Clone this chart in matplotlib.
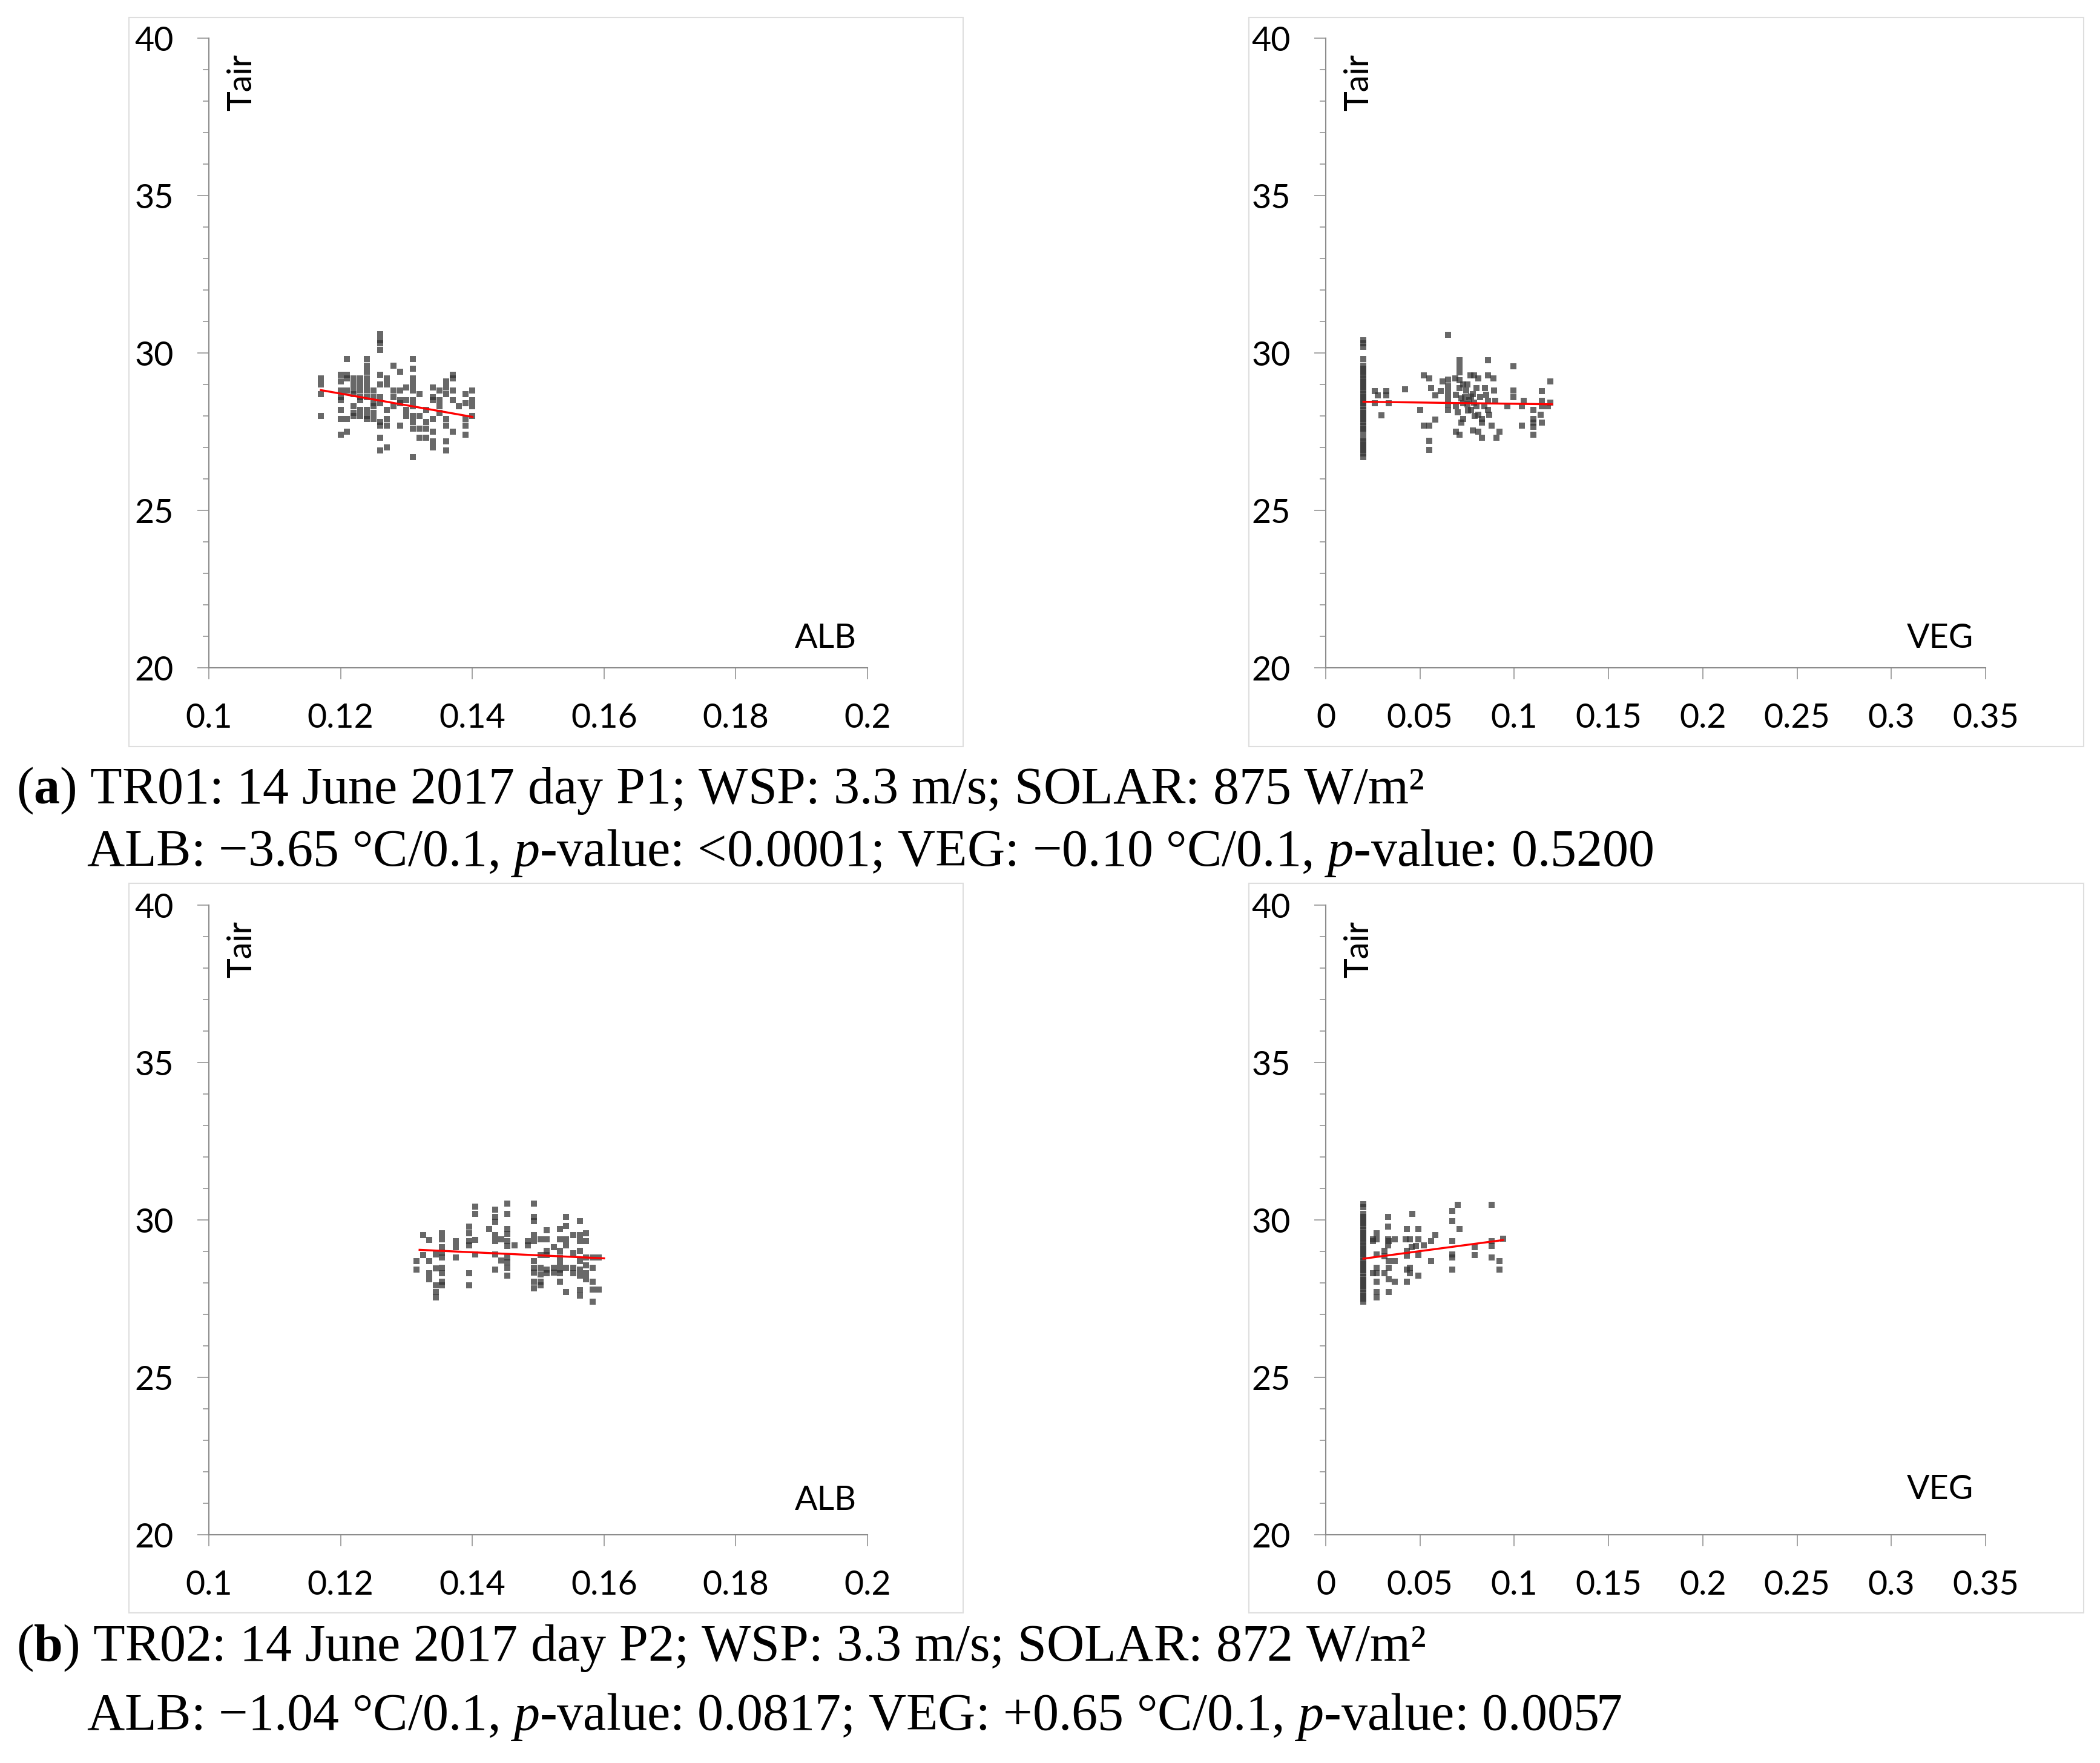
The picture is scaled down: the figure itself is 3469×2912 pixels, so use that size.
import matplotlib
matplotlib.use("Agg")
import matplotlib.pyplot as plt
from matplotlib.patches import Rectangle

plt.rcParams['mathtext.fontset'] = 'custom'
plt.rcParams['mathtext.rm'] = 'Liberation Serif'
plt.rcParams['mathtext.it'] = 'Liberation Serif:italic'
plt.rcParams['mathtext.bf'] = 'Liberation Serif:bold'

# ---- data ----
# ALB panels: (albedo, [Tair values at that albedo])
alb_a = [
    (0.117, [29.2, 29.0, 28.7, 28.0]),
    (0.120, [29.3, 29.1, 28.8, 28.6, 28.5, 28.2, 27.9, 27.4]),
    (0.121, [29.8, 29.3, 29.2, 28.8, 27.9, 27.5]),
    (0.122, [29.2, 29.0, 28.8, 28.7, 28.3, 28.1, 28.0]),
    (0.123, [29.2, 29.0, 28.8, 28.6, 28.5, 28.2, 28.0]),
    (0.124, [29.8, 29.6, 29.4, 29.2, 29.0, 28.8, 28.6, 28.2, 28.0, 27.9]),
    (0.125, [28.8, 28.6, 28.4, 28.3, 28.1, 27.9]),
    (0.126, [30.6, 30.4, 30.3, 30.1, 29.3, 29.0, 28.6, 28.4, 27.8, 27.7, 27.3, 26.9]),
    (0.127, [29.2, 29.0, 28.2, 27.9, 27.7, 27.0]),
    (0.128, [29.6, 28.8, 28.6, 28.3]),
    (0.129, [29.4, 28.8, 28.5, 28.4, 27.7]),
    (0.130, [28.9, 28.5, 28.2, 28.0]),
    (0.131, [29.8, 29.5, 29.2, 29.0, 28.8, 28.5, 28.3, 28.0, 27.8, 27.6, 26.7]),
    (0.132, [28.7, 28.0, 27.6, 27.3]),
    (0.133, [28.2, 27.8, 27.6, 27.3]),
    (0.134, [28.9, 28.6, 28.5, 27.9, 27.5, 27.2, 27.0]),
    (0.135, [28.8, 28.5, 28.3, 28.1]),
    (0.136, [29.1, 28.9, 28.7, 27.9, 27.7, 27.2, 26.9]),
    (0.137, [29.3, 29.2, 28.8, 28.5, 27.5]),
    (0.138, [28.3]),
    (0.139, [28.7, 28.4, 27.9, 27.7, 27.4]),
    (0.140, [28.8, 28.5, 28.3, 28.0]),
]
alb_b = [
    (0.1315, [28.69, 28.43]),
    (0.1325, [29.52, 28.88]),
    (0.1335, [29.36, 28.69, 28.30, 28.11]),
    (0.1345, [28.91, 28.46, 27.92, 27.72, 27.53]),
    (0.1354, [29.58, 29.39, 29.13, 28.97, 28.81, 28.49, 28.30, 28.04, 27.92]),
    (0.1375, [29.33, 29.13, 28.81]),
    (0.1395, [29.78, 29.58, 29.33, 29.20, 28.30, 27.92]),
    (0.1404, [30.42, 30.19, 29.36, 28.91]),
    (0.1426, [29.71]),
    (0.1435, [30.32, 30.10, 29.94, 29.52, 29.33, 28.91, 28.43]),
    (0.1444, [29.39, 28.72]),
    (0.1453, [30.51, 30.19, 29.71, 29.55, 29.33, 29.17, 28.81, 28.65, 28.49, 28.24]),
    (0.1464, [29.20]),
    (0.1484, [29.33, 29.20]),
    (0.1494, [30.51, 30.10, 29.97, 29.52, 29.33, 28.69, 28.49, 28.33, 28.04, 27.82]),
    (0.1504, [29.39, 28.88, 28.49, 28.27, 28.04, 27.92]),
    (0.1513, [29.68, 29.39, 29.01, 28.88, 28.43, 28.30]),
    (0.1524, [29.13, 28.49, 28.33]),
    (0.1533, [29.71, 29.39, 29.01, 28.81, 28.62, 28.43, 28.30, 28.04]),
    (0.1542, [30.10, 29.81, 29.39, 29.20, 28.49, 27.72]),
    (0.1553, [29.52, 28.94, 28.49, 28.30]),
    (0.1563, [29.97, 29.52, 29.33, 29.01, 28.69, 28.43, 28.24, 27.76, 27.60]),
    (0.1573, [29.58, 29.33, 28.81, 28.56, 28.30, 28.11]),
    (0.1583, [28.81, 28.49, 28.04, 27.79, 27.40]),
    (0.1592, [28.81, 27.79]),
]

# VEG panels: many points sit on the minimum VEG = 0.02
veg_min = 0.02
veg_a_bar = [30.4, 30.3, 30.2, 29.8, 29.6, 29.5, 29.4, 29.3, 29.2, 29.1, 29.0, 28.9,
             28.8, 28.7, 28.6, 28.5, 28.4, 28.3, 28.2, 28.1, 28.0, 27.9, 27.8, 27.7,
             27.6, 27.5, 27.3, 27.2, 27.1, 27.0, 26.9, 26.8, 26.7]
veg_a_pts = [
    (0.026, 28.78), (0.0275, 28.65), (0.032, 28.78), (0.032, 28.65), (0.026, 28.40),
    (0.0334, 28.40), (0.0296, 28.01), (0.042, 28.84), (0.050, 28.20), (0.052, 29.29),
    (0.055, 29.20), (0.056, 28.88), (0.058, 28.65), (0.061, 28.78), (0.052, 27.69),
    (0.055, 27.69), (0.058, 27.88), (0.055, 27.21), (0.055, 26.92), (0.065, 30.57),
    (0.065, 29.16), (0.065, 28.94), (0.065, 28.75), (0.065, 28.56), (0.065, 28.36),
    (0.065, 28.20), (0.062, 29.10), (0.0686, 29.20), (0.071, 29.77), (0.071, 29.58),
    (0.071, 29.39), (0.071, 29.13), (0.069, 28.68), (0.069, 28.30), (0.070, 28.11),
    (0.071, 28.88), (0.072, 28.56), (0.073, 29.00), (0.0745, 28.81), (0.075, 28.36),
    (0.0755, 28.17), (0.073, 27.91), (0.072, 27.79), (0.069, 27.50), (0.071, 27.40),
    (0.0766, 29.29), (0.0787, 29.29), (0.081, 29.20), (0.077, 28.62), (0.0787, 28.43),
    (0.080, 28.88), (0.081, 28.04), (0.083, 27.91), (0.083, 27.79), (0.078, 27.53),
    (0.081, 27.50), (0.083, 27.31), (0.0846, 28.88), (0.085, 28.68), (0.086, 28.49),
    (0.084, 28.30), (0.086, 28.20), (0.086, 29.77), (0.086, 29.29), (0.089, 29.20),
    (0.0894, 28.81), (0.090, 28.49), (0.0868, 28.04), (0.088, 27.69), (0.0905, 27.31),
    (0.092, 27.50), (0.0964, 28.30), (0.0996, 29.58), (0.0996, 28.81), (0.0996, 28.59),
    (0.105, 28.49), (0.104, 28.30), (0.104, 27.69), (0.110, 28.20), (0.110, 27.91),
    (0.110, 27.79), (0.110, 27.66), (0.110, 27.40), (0.1145, 28.78), (0.1145, 28.49),
    (0.1145, 28.30), (0.114, 28.04), (0.1145, 27.79), (0.119, 29.10), (0.119, 28.43),
    (0.118, 28.30), (0.074, 28.6), (0.076, 28.5), (0.078, 28.7), (0.073, 28.4),
    (0.080, 28.3), (0.082, 28.6), (0.075, 29.0), (0.077, 28.2), (0.079, 28.0),
]
veg_b_bar = [30.5, 30.4, 30.2, 30.1, 30.0, 29.9, 29.8, 29.7, 29.6, 29.5, 29.4, 29.3,
             29.2, 29.1, 29.0, 28.9, 28.8, 28.7, 28.6, 28.5, 28.4, 28.3, 28.2, 28.1,
             28.0, 27.9, 27.8, 27.7, 27.6, 27.5, 27.4]
veg_b_pts = [
    (0.027, 29.58), (0.027, 29.39), (0.025, 29.39), (0.025, 29.33), (0.027, 28.91),
    (0.027, 28.49), (0.027, 28.30), (0.025, 28.30), (0.027, 28.04), (0.027, 27.72),
    (0.027, 27.53), (0.033, 30.10), (0.033, 29.79), (0.033, 29.39), (0.0334, 29.33),
    (0.0366, 29.39), (0.033, 29.20), (0.031, 29.01), (0.031, 28.85), (0.0334, 28.69),
    (0.0366, 28.69), (0.0334, 28.49), (0.031, 28.30), (0.0334, 28.11), (0.0366, 28.04),
    (0.0334, 27.72), (0.043, 29.71), (0.0424, 29.39), (0.0446, 29.39), (0.043, 29.01),
    (0.043, 28.87), (0.043, 28.43), (0.0446, 28.49), (0.0446, 28.30), (0.043, 28.04),
    (0.046, 30.19), (0.049, 29.71), (0.049, 29.39), (0.048, 29.17), (0.0456, 29.13),
    (0.049, 28.88), (0.052, 29.20), (0.049, 28.24), (0.056, 29.33), (0.058, 29.52),
    (0.056, 28.69), (0.067, 30.29), (0.070, 30.49), (0.067, 29.97), (0.071, 29.71),
    (0.067, 29.33), (0.067, 28.91), (0.067, 28.81), (0.067, 28.43), (0.079, 29.13),
    (0.079, 28.89), (0.088, 30.49), (0.088, 29.33), (0.088, 29.17), (0.088, 28.81),
    (0.092, 28.70), (0.092, 28.43), (0.094, 29.40),
]

# linear trend lines (end points)
fit_alb_a_x, fit_alb_a_y = [0.117, 0.140], [28.82, 27.97]
fit_veg_a_x, fit_veg_a_y = [0.02, 0.12], [28.45, 28.37]
fit_alb_b_x, fit_alb_b_y = [0.132, 0.160], [29.05, 28.78]
fit_veg_b_x, fit_veg_b_y = [0.02, 0.094], [28.77, 29.36]

alb_ticks = [0.1, 0.12, 0.14, 0.16, 0.18, 0.2]
alb_labels = ["0.1", "0.12", "0.14", "0.16", "0.18", "0.2"]
veg_ticks = [0, 0.05, 0.1, 0.15, 0.2, 0.25, 0.3, 0.35]
veg_labels = ["0", "0.05", "0.1", "0.15", "0.2", "0.25", "0.3", "0.35"]
y_ticks = [20, 25, 30, 35, 40]
y_labels = ["20", "25", "30", "35", "40"]

caption_a1 = r"($\mathbf{a}$) TR01: 14 June 2017 day P1; WSP: 3.3 m/s; SOLAR: 875 W/m²"
caption_a2 = r"ALB: −3.65 °C/0.1, $\mathit{p}$-value: <0.0001; VEG: −0.10 °C/0.1, $\mathit{p}$-value: 0.5200"
caption_b1 = r"($\mathbf{b}$) TR02: 14 June 2017 day P2; WSP: 3.3 m/s; SOLAR: 872 W/m²"
caption_b2 = r"ALB: −1.04 °C/0.1, $\mathit{p}$-value: 0.0817; VEG: +0.65 °C/0.1, $\mathit{p}$-value: 0.0057"


def flatten_cols(cols):
    xs, ys = [], []
    for x, col in cols:
        xs += [x] * len(col)
        ys += col
    return xs, ys


def veg_xy(bar, pts):
    xs = [veg_min] * len(bar) + [p[0] for p in pts]
    ys = list(bar) + [p[1] for p in pts]
    return xs, ys


W, H = 3469, 2912
fig = plt.figure(figsize=(W / 100, H / 100), dpi=100)
fig.patch.set_facecolor("white")

AX_GRAY = "#8c8c8c"
TICK_FONT = "Lato"


def px_axes(x0, x1, ytop, ybot):
    return fig.add_axes([x0 / W, 1 - ybot / H, (x1 - x0) / W, (ybot - ytop) / H])


def chart_frame(x0, y0, x1, y1):
    fig.patches.append(Rectangle((x0 / W, 1 - y1 / H), (x1 - x0) / W, (y1 - y0) / H,
                                 transform=fig.transFigure, fill=False,
                                 edgecolor="#dedede", lw=1.5))


def draw_panel(ax, xs, ys, fx, fy, xlim, xticks, xlabels, name, name_x, name_y):
    ax.scatter(xs, ys, marker="s", s=56, color="#333333", alpha=0.74,
               linewidths=0, zorder=3)
    ax.plot(fx, fy, color="#ff0000", lw=2.4, zorder=4)
    ax.set_xlim(*xlim)
    ax.set_ylim(20, 40)
    ax.set_xticks(xticks)
    ax.set_xticklabels(xlabels)
    ax.set_yticks(y_ticks)
    ax.set_yticklabels(y_labels)
    ax.set_yticks(range(20, 41), minor=True)
    for s in ["top", "right"]:
        ax.spines[s].set_visible(False)
    for s in ["left", "bottom"]:
        ax.spines[s].set_color(AX_GRAY)
        ax.spines[s].set_linewidth(1.5)
    ax.tick_params(axis="both", which="major", direction="out", length=14,
                   width=1.1, color=AX_GRAY, labelsize=40, pad=28)
    ax.tick_params(axis="y", which="minor", direction="out", length=7,
                   width=1.1, color=AX_GRAY)
    for lab in ax.get_xticklabels() + ax.get_yticklabels():
        lab.set_fontfamily(TICK_FONT)
    ax.text(0.05, 0.975, "Tair", transform=ax.transAxes, rotation=90,
            ha="center", va="top", fontsize=40, family=TICK_FONT)
    ax.text(name_x, name_y, name, transform=ax.transAxes,
            ha="right", va="bottom", fontsize=40, family=TICK_FONT)


# frames of the four Excel charts
chart_frame(213, 29, 1591, 1233)
chart_frame(2063, 29, 3442, 1233)
chart_frame(213, 1459, 1591, 2664)
chart_frame(2063, 1459, 3442, 2664)

ax1 = px_axes(345, 1433, 63, 1103)
ax2 = px_axes(2190, 3280, 63, 1103)
ax3 = px_axes(345, 1433, 1495, 2535)
ax4 = px_axes(2190, 3280, 1495, 2535)

x, y = flatten_cols(alb_a)
draw_panel(ax1, x, y, fit_alb_a_x, fit_alb_a_y, (0.1, 0.2), alb_ticks, alb_labels,
           "ALB", 0.983, 0.022)
x, y = veg_xy(veg_a_bar, veg_a_pts)
draw_panel(ax2, x, y, fit_veg_a_x, fit_veg_a_y, (0, 0.35), veg_ticks, veg_labels,
           "VEG", 0.982, 0.022)
x, y = flatten_cols(alb_b)
draw_panel(ax3, x, y, fit_alb_b_x, fit_alb_b_y, (0.1, 0.2), alb_ticks, alb_labels,
           "ALB", 0.983, 0.03)
x, y = veg_xy(veg_b_bar, veg_b_pts)
draw_panel(ax4, x, y, fit_veg_b_x, fit_veg_b_y, (0, 0.35), veg_ticks, veg_labels,
           "VEG", 0.982, 0.047)

# captions
cap = dict(fontsize=62, family="Liberation Serif", va="baseline", ha="left")
fig.text(27 / W, 1 - 1327 / H, caption_a1, **cap)
fig.text(143 / W, 1 - 1430 / H, caption_a2, **cap)
fig.text(27 / W, 1 - 2743 / H, caption_b1, **cap)
fig.text(143 / W, 1 - 2857 / H, caption_b2, **cap)

fig.savefig("out.png", dpi=100, facecolor="white")
